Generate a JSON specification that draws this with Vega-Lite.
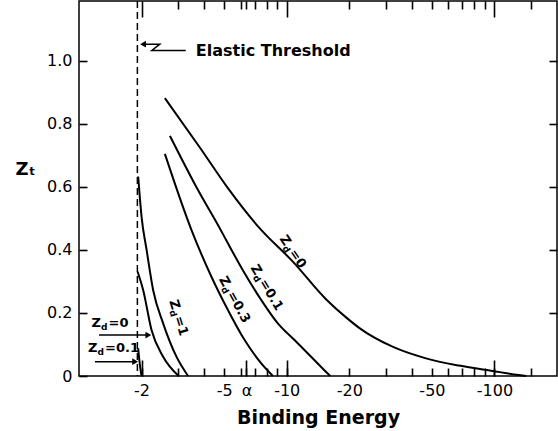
{
  "$schema": "https://vega.github.io/schema/vega-lite/v6.json",
  "width": 478,
  "height": 375,
  "autosize": {"type": "none"},
  "padding": {"left": 79, "top": 1, "right": 1, "bottom": 55},
  "background": "white",
  "config": {
    "view": {"stroke": "black", "strokeWidth": 1.5},
    "axis": {"domain": false, "grid": false, "ticks": true, "tickColor": "black", "tickWidth": 1.6, "tickOpacity": 1, "labelColor": "black", "labelFont": "DejaVu Sans", "labelFontSize": 16, "titleFont": "DejaVu Sans", "titleColor": "black"},
    "text": {"font": "DejaVu Sans", "color": "black"}
  },
  "datasets": {
    "curves": [
      {"curve": "A", "energy": -2.59, "zt": 0.882},
      {"curve": "A", "energy": -3.81, "zt": 0.726},
      {"curve": "A", "energy": -5.21, "zt": 0.596},
      {"curve": "A", "energy": -7.4, "zt": 0.469},
      {"curve": "A", "energy": -10.7, "zt": 0.363},
      {"curve": "A", "energy": -15.5, "zt": 0.243},
      {"curve": "A", "energy": -19.3, "zt": 0.186},
      {"curve": "A", "energy": -22.4, "zt": 0.152},
      {"curve": "A", "energy": -32.3, "zt": 0.093},
      {"curve": "A", "energy": -46.8, "zt": 0.056},
      {"curve": "A", "energy": -67.6, "zt": 0.033},
      {"curve": "A", "energy": -97.7, "zt": 0.016},
      {"curve": "A", "energy": -131, "zt": 0.003},
      {"curve": "A", "energy": -142, "zt": 0},
      {"curve": "B", "energy": -2.74, "zt": 0.762},
      {"curve": "B", "energy": -3.74, "zt": 0.59},
      {"curve": "B", "energy": -4.76, "zt": 0.469},
      {"curve": "B", "energy": -5.21, "zt": 0.421},
      {"curve": "B", "energy": -6.27, "zt": 0.326},
      {"curve": "B", "energy": -7.54, "zt": 0.241},
      {"curve": "B", "energy": -9.06, "zt": 0.167},
      {"curve": "B", "energy": -10.9, "zt": 0.114},
      {"curve": "B", "energy": -13.1, "zt": 0.0613},
      {"curve": "B", "energy": -15.7, "zt": 0.0086},
      {"curve": "B", "energy": -16.2, "zt": 0},
      {"curve": "C", "energy": -2.59, "zt": 0.705},
      {"curve": "C", "energy": -3.48, "zt": 0.463},
      {"curve": "C", "energy": -4.34, "zt": 0.315},
      {"curve": "C", "energy": -5.21, "zt": 0.2095},
      {"curve": "C", "energy": -6.27, "zt": 0.114},
      {"curve": "C", "energy": -7.54, "zt": 0.04},
      {"curve": "C", "energy": -8.58, "zt": 0},
      {"curve": "D", "energy": -1.927, "zt": 0.633},
      {"curve": "D", "energy": -2.0, "zt": 0.506},
      {"curve": "D", "energy": -2.116, "zt": 0.4},
      {"curve": "D", "energy": -2.274, "zt": 0.273},
      {"curve": "D", "energy": -2.541, "zt": 0.167},
      {"curve": "D", "energy": -2.945, "zt": 0.0613},
      {"curve": "D", "energy": -3.35, "zt": 0},
      {"curve": "E", "energy": -1.915, "zt": 0.331},
      {"curve": "E", "energy": -2.036, "zt": 0.273},
      {"curve": "E", "energy": -2.234, "zt": 0.146},
      {"curve": "E", "energy": -2.541, "zt": 0.0613},
      {"curve": "E", "energy": -3.02, "zt": 0},
      {"curve": "F", "energy": -1.927, "zt": 0.088},
      {"curve": "F", "energy": -1.96, "zt": 0.04},
      {"curve": "F", "energy": -2.0, "zt": 0}
    ],
    "threshold": [{"energy": -1.91}],
    "labels": [
      {"label": "A", "energy": -9.54, "zt": 0.443, "rest": "=0"},
      {"label": "B", "energy": -6.93, "zt": 0.35, "rest": "=0.1"},
      {"label": "C", "energy": -4.89, "zt": 0.313, "rest": "=0.3"},
      {"label": "D", "energy": -2.84, "zt": 0.241, "rest": "=1"},
      {"label": "E", "energy": -1.15, "zt": 0.168, "rest": "=0"},
      {"label": "F", "energy": -1.105, "zt": 0.0889, "rest": "=0.1"}
    ],
    "arrows": [
      {"arrow": "elastic", "order": 1, "energy": -2.034, "zt": 1.053},
      {"arrow": "elastic", "order": 2, "energy": -2.449, "zt": 1.053},
      {"arrow": "elastic", "order": 3, "energy": -2.242, "zt": 1.033},
      {"arrow": "elastic", "order": 4, "energy": -3.265, "zt": 1.033},
      {"arrow": "zd0", "order": 1, "energy": -1.248, "zt": 0.13},
      {"arrow": "zd0", "order": 2, "energy": -2.157, "zt": 0.13},
      {"arrow": "zd01", "order": 1, "energy": -1.193, "zt": 0.0454},
      {"arrow": "zd01", "order": 2, "energy": -1.864, "zt": 0.0454}
    ],
    "heads": [
      {"arrow": "elastic", "direction": "left", "energy": -2.034, "zt": 1.053},
      {"arrow": "zd0", "direction": "right", "energy": -2.157, "zt": 0.13},
      {"arrow": "zd01", "direction": "right", "energy": -1.864, "zt": 0.0454}
    ],
    "notes": [
      {"text": "Elastic Threshold", "energy": -3.65, "zt": 1.032}
    ]
  },
  "layer": [
    {
      "data": {"name": "curves"},
      "mark": {"type": "line", "color": "black", "strokeWidth": 2, "interpolate": "monotone"},
      "encoding": {
        "x": {
          "field": "energy", "type": "quantitative",
          "scale": {"type": "log", "domain": [-1, -200], "nice": false},
          "axis": {
            "orient": "bottom",
            "offset": -8,
            "tickSize": 8,
            "title": "Binding Energy",
            "titleFontSize": 19,
            "titleFontWeight": "bold",
            "titleBaseline": "middle",
            "titleY": 49,
            "values": [-2, -3, -4, -5, -6, -6.4, -7, -8, -9, -10, -20, -30, -40, -50, -60, -70, -80, -90, -100, -150],
            "labelExpr": "datum.value == -6.4 ? 'α' : (indexof([-2, -5, -10, -20, -50, -100], datum.value) >= 0 ? '-' + abs(datum.value) : '')",
            "labelOverlap": false,
            "labelFlush": false,
            "labelFontSize": 16,
            "labelPadding": 6
          }
        },
        "y": {
          "field": "zt", "type": "quantitative",
          "scale": {"domain": [0, 1.19], "nice": false},
          "axis": {
            "orient": "left",
            "offset": -8,
            "tickSize": 8,
            "title": "Zₜ",
            "titleAngle": 0,
            "titleFontSize": 18,
            "titleFontWeight": "bold",
            "titleAlign": "center",
            "titleBaseline": "middle",
            "titleX": -62,
            "titleY": 168,
            "values": [0, 0.2, 0.4, 0.6, 0.8, 1.0],
            "labelExpr": "datum.value == 0 ? '0' : format(datum.value, '.1f')",
            "labelFontSize": 16,
            "labelPadding": 7
          }
        },
        "detail": {"field": "curve", "type": "nominal"}
      }
    },
    {
      "data": {"name": "threshold"},
      "mark": {"type": "rule", "color": "black", "strokeWidth": 1.5, "strokeDash": [7, 4]},
      "encoding": {
        "x": {
          "field": "energy", "type": "quantitative",
          "axis": {
            "orient": "top",
            "offset": -8,
            "tickSize": 8,
            "title": null,
            "labels": false,
            "values": [-3, -4, -5, -6, -6.4, -7, -8, -9, -20, -30, -40, -50, -60, -70, -80, -90, -150]
          }
        }
      }
    },
    {
      "data": {"name": "arrows"},
      "mark": {"type": "line", "color": "black", "strokeWidth": 1.5},
      "encoding": {
        "x": {
          "field": "energy", "type": "quantitative",
          "axis": {"orient": "bottom", "offset": -16, "tickSize": 16, "title": null, "labels": false, "values": [-2, -6.4, -10, -100]}
        },
        "y": {
          "field": "zt", "type": "quantitative",
          "axis": {"orient": "right", "offset": -8, "tickSize": 8, "title": null, "labels": false, "values": [0.2, 0.4, 0.6, 0.8, 1.0]}
        },
        "detail": {"field": "arrow", "type": "nominal"},
        "order": {"field": "order", "type": "quantitative"}
      }
    },
    {
      "data": {"name": "heads"},
      "mark": {"type": "point", "filled": true, "color": "black", "opacity": 1, "size": 45},
      "encoding": {
        "x": {
          "field": "energy", "type": "quantitative",
          "axis": {"orient": "top", "offset": -16, "tickSize": 16, "title": null, "labels": false, "values": [-2, -10, -100]}
        },
        "y": {"field": "zt", "type": "quantitative", "axis": null},
        "shape": {"field": "direction", "type": "nominal", "scale": {"domain": ["left", "right"], "range": ["triangle-left", "triangle-right"]}, "legend": null}
      }
    },
    {
      "data": {"name": "notes"},
      "mark": {"type": "text", "align": "left", "baseline": "middle", "fontSize": 16, "fontWeight": "bold"},
      "encoding": {
        "x": {"field": "energy", "type": "quantitative", "axis": null},
        "y": {"field": "zt", "type": "quantitative", "axis": null},
        "text": {"field": "text"}
      }
    },
    {
      "data": {"name": "labels"},
      "transform": [{"filter": "datum.label == 'A'"}],
      "encoding": {
        "x": {"field": "energy", "type": "quantitative", "axis": null},
        "y": {"field": "zt", "type": "quantitative", "axis": null}
      },
      "layer": [
        {"mark": {"type": "text", "text": "Z", "angle": 56, "align": "left", "baseline": "middle", "fontSize": 13, "fontWeight": "bold"}},
        {"mark": {"type": "text", "text": "d", "angle": 56, "align": "left", "baseline": "middle", "fontSize": 9, "fontWeight": "bold", "dx": 9.5, "dy": 4}},
        {"mark": {"type": "text", "angle": 56, "align": "left", "baseline": "middle", "fontSize": 13, "fontWeight": "bold", "dx": 17}, "encoding": {"text": {"field": "rest"}}}
      ]
    },
    {
      "data": {"name": "labels"},
      "transform": [{"filter": "datum.label == 'B'"}],
      "encoding": {
        "x": {"field": "energy", "type": "quantitative", "axis": null},
        "y": {"field": "zt", "type": "quantitative", "axis": null}
      },
      "layer": [
        {"mark": {"type": "text", "text": "Z", "angle": 59, "align": "left", "baseline": "middle", "fontSize": 13, "fontWeight": "bold"}},
        {"mark": {"type": "text", "text": "d", "angle": 59, "align": "left", "baseline": "middle", "fontSize": 9, "fontWeight": "bold", "dx": 9.5, "dy": 4}},
        {"mark": {"type": "text", "angle": 59, "align": "left", "baseline": "middle", "fontSize": 13, "fontWeight": "bold", "dx": 17}, "encoding": {"text": {"field": "rest"}}}
      ]
    },
    {
      "data": {"name": "labels"},
      "transform": [{"filter": "datum.label == 'C'"}],
      "encoding": {
        "x": {"field": "energy", "type": "quantitative", "axis": null},
        "y": {"field": "zt", "type": "quantitative", "axis": null}
      },
      "layer": [
        {"mark": {"type": "text", "text": "Z", "angle": 61, "align": "left", "baseline": "middle", "fontSize": 13, "fontWeight": "bold"}},
        {"mark": {"type": "text", "text": "d", "angle": 61, "align": "left", "baseline": "middle", "fontSize": 9, "fontWeight": "bold", "dx": 9.5, "dy": 4}},
        {"mark": {"type": "text", "angle": 61, "align": "left", "baseline": "middle", "fontSize": 13, "fontWeight": "bold", "dx": 17}, "encoding": {"text": {"field": "rest"}}}
      ]
    },
    {
      "data": {"name": "labels"},
      "transform": [{"filter": "datum.label == 'D'"}],
      "encoding": {
        "x": {"field": "energy", "type": "quantitative", "axis": null},
        "y": {"field": "zt", "type": "quantitative", "axis": null}
      },
      "layer": [
        {"mark": {"type": "text", "text": "Z", "angle": 73, "align": "left", "baseline": "middle", "fontSize": 13, "fontWeight": "bold"}},
        {"mark": {"type": "text", "text": "d", "angle": 73, "align": "left", "baseline": "middle", "fontSize": 9, "fontWeight": "bold", "dx": 9.5, "dy": 4}},
        {"mark": {"type": "text", "angle": 73, "align": "left", "baseline": "middle", "fontSize": 13, "fontWeight": "bold", "dx": 17}, "encoding": {"text": {"field": "rest"}}}
      ]
    },
    {
      "data": {"name": "labels"},
      "transform": [{"filter": "datum.label == 'E' || datum.label == 'F'"}],
      "encoding": {
        "x": {"field": "energy", "type": "quantitative", "axis": null},
        "y": {"field": "zt", "type": "quantitative", "axis": null}
      },
      "layer": [
        {"mark": {"type": "text", "text": "Z", "align": "left", "baseline": "middle", "fontSize": 13, "fontWeight": "bold"}},
        {"mark": {"type": "text", "text": "d", "align": "left", "baseline": "middle", "fontSize": 9, "fontWeight": "bold", "dx": 9.5, "dy": 4}},
        {"mark": {"type": "text", "align": "left", "baseline": "middle", "fontSize": 13, "fontWeight": "bold", "dx": 17}, "encoding": {"text": {"field": "rest"}}}
      ]
    }
  ],
  "resolve": {"axis": {"x": "independent", "y": "independent"}}
}
